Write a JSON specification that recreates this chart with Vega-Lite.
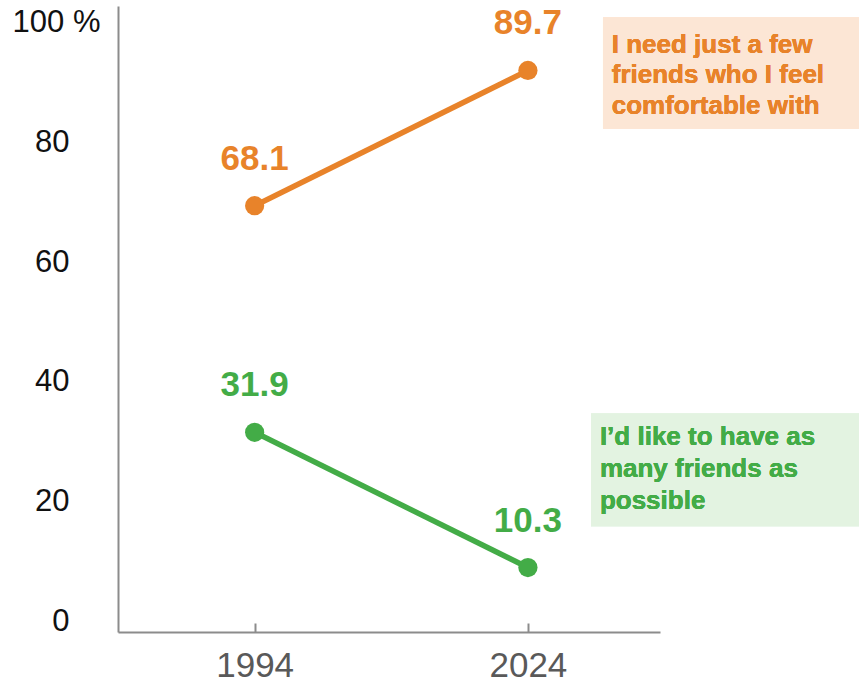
{
  "$schema": "https://vega.github.io/schema/vega-lite/v6.json",
  "width": 542,
  "height": 626,
  "autosize": "none",
  "padding": {"left": 118, "top": 6, "right": 199, "bottom": 51},
  "background": "white",
  "config": {"view": {"stroke": null}, "font": "Liberation Sans"},
  "data": {"values": [
    {"year": 1994, "value": 68.1, "series": "few"},
    {"year": 2024, "value": 89.7, "series": "few"},
    {"year": 1994, "value": 31.9, "series": "many"},
    {"year": 2024, "value": 10.3, "series": "many"}
  ]},
  "encoding": {
    "x": {"field": "year", "type": "quantitative",
      "scale": {"domain": [1979, 2038.5], "nice": false, "zero": false},
      "axis": {"title": null, "values": [1994, 2024], "format": "d", "grid": false,
        "domainColor": "#8c8c8c", "domainWidth": 2, "tickColor": "#8c8c8c", "tickWidth": 2,
        "tickSize": -9, "labelPadding": 25, "labelFontSize": 35, "labelColor": "#595959",
        "labelFont": "Liberation Sans", "labelBaseline": "top"}},
    "y": {"field": "value", "type": "quantitative",
      "scale": {"domain": [0, 100], "nice": false},
      "axis": {"title": null, "values": [0, 20, 40, 60, 80, 100], "grid": false, "ticks": false,
        "domainColor": "#8c8c8c", "domainWidth": 2,
        "labelExpr": "datum.value == 100 ? '100 %' : datum.label",
        "labelFontSize": 31, "labelColor": "#111111", "labelFont": "Liberation Sans",
        "labelBaseline": "middle", "labelAlign": "right",
        "labelOffset": {"expr": "0.27 * datum.value - 10.5"},
        "labelPadding": {"expr": "datum.value == 100 ? 18 : 49"}}},
    "color": {"field": "series", "type": "nominal", "legend": null,
      "scale": {"domain": ["few", "many"], "range": ["#E8832A", "#43AC47"]}}
  },
  "layer": [
    {"mark": {"type": "rect"},
     "encoding": {"x": {"datum": 2032.24}, "x2": {"datum": 2060.4}, "y": {"datum": 98.2}, "y2": {"datum": 80.4}, "color": {"value": "#FCE6D5"}}},
    {"mark": {"type": "rect"},
     "encoding": {"x": {"datum": 2030.93}, "x2": {"datum": 2060.4}, "y": {"datum": 34.9}, "y2": {"datum": 16.9}, "color": {"value": "#E3F3E1"}}},
    {"mark": {"type": "text", "align": "left", "baseline": "alphabetic", "fontSize": 26, "fontWeight": "bold", "lineHeight": 30.5, "font": "Liberation Sans"},
     "encoding": {"x": {"datum": 2033.2}, "y": {"datum": 92.5}, "color": {"value": "#E8832A"},
       "text": {"value": ["I need just a few", "friends who I feel", "comfortable with"]}}},
    {"mark": {"type": "text", "align": "left", "baseline": "alphabetic", "fontSize": 26, "fontWeight": "bold", "lineHeight": 32, "font": "Liberation Sans"},
     "encoding": {"x": {"datum": 2031.9}, "y": {"datum": 29.8}, "color": {"value": "#43AC47"},
       "text": {"value": ["I\u2019d like to have as", "many friends as", "possible"]}}},
    {"mark": {"type": "line", "strokeWidth": 5.5}, "encoding": {"detail": {"field": "series"}}},
    {"mark": {"type": "point", "filled": true, "opacity": 1, "size": 370}},
    {"mark": {"type": "text", "fontSize": 35, "fontWeight": "bold", "baseline": "alphabetic", "align": "center", "dy": -36, "font": "Liberation Sans"},
     "encoding": {"text": {"field": "value", "type": "quantitative", "format": ".1f"}}}
  ]
}
